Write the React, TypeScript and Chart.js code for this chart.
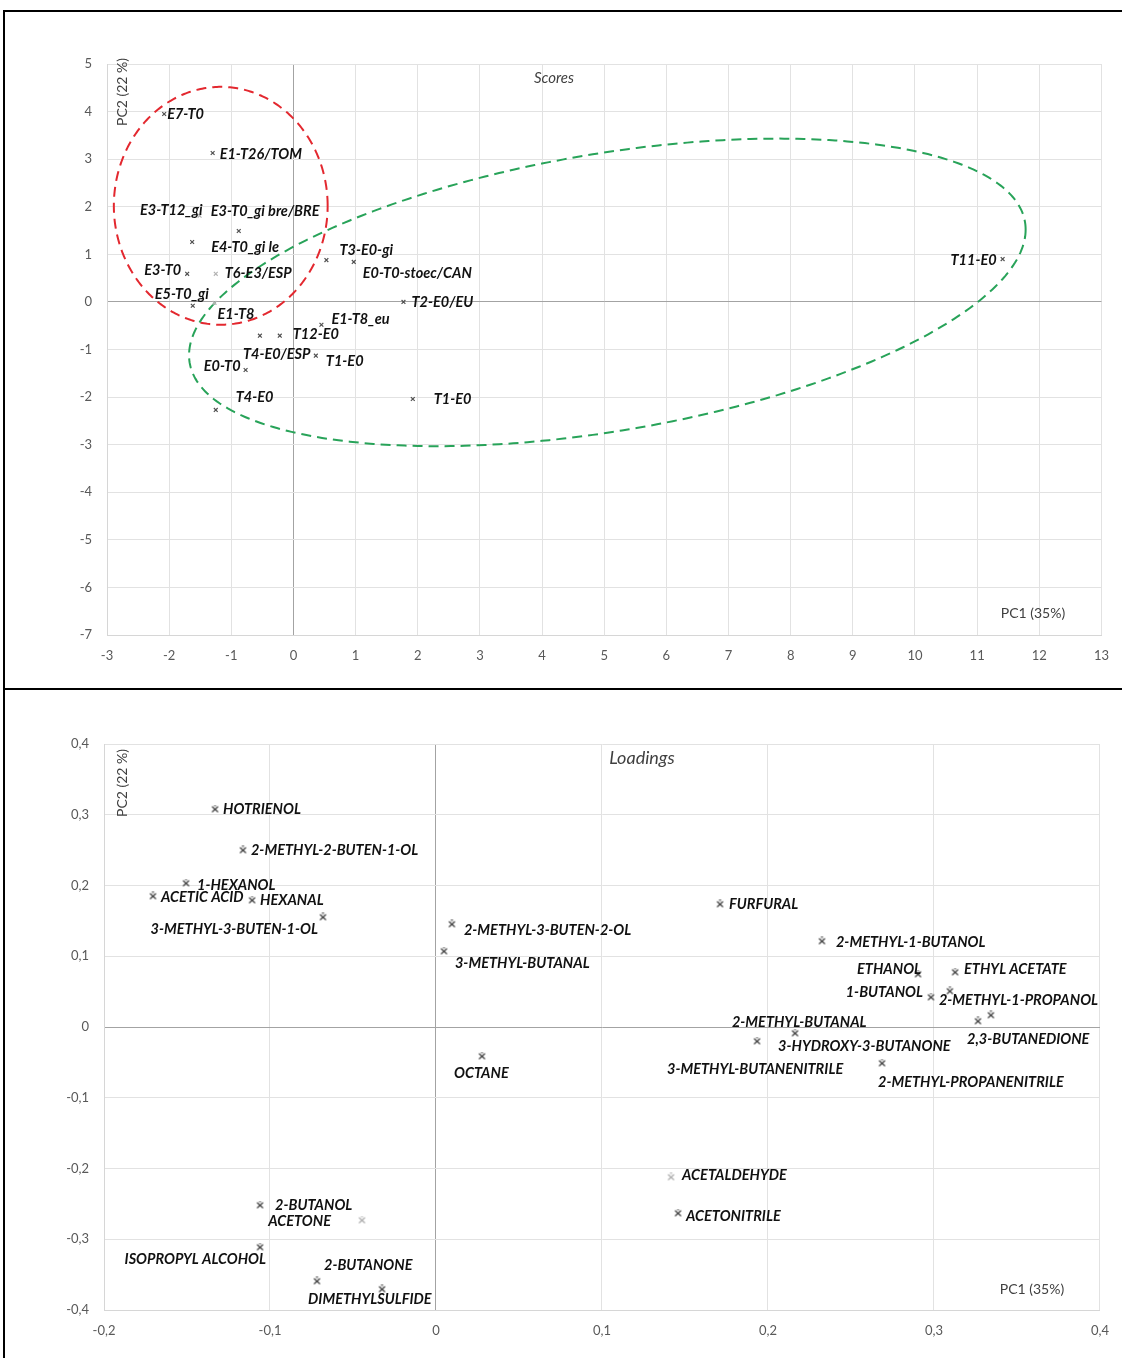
import React, { useEffect, useRef } from 'react';
import { Chart, registerables } from 'chart.js';

Chart.register(...registerables);

// ---------- Scores (top chart) ----------
const scoreLabels = [
  'E7-T0', 'E1-T26/TOM', 'E3-T12_gi', 'E3-T0_gi bre/BRE', 'E4-T0_gi le',
  'T3-E0-gi', 'E0-T0-stoec/CAN', 'E3-T0', 'T6-E3/ESP', 'E5-T0_gi',
  'E1-T8', 'T2-E0/EU', 'E1-T8_eu', 'T12-E0', 'T4-E0/ESP',
  'T1-E0', 'E0-T0', 'T4-E0', 'T1-E0', 'T11-E0',
];
const scorePC1 = [
  -2.08, -1.3, -1.51, -0.88, -1.63,
  0.53, 0.97, -1.71, -1.25, -1.62,
  -1.27, 1.77, 0.45, -0.22, -0.54,
  0.36, -0.77, -1.25, 1.92, 11.41,
];
const scorePC2 = [
  3.95, 3.13, 1.81, 1.49, 1.26,
  0.88, 0.84, 0.59, 0.59, -0.08,
  -0.02, 0.0, -0.48, -0.71, -0.71,
  -1.13, -1.43, -2.27, -2.04, 0.9,
];
const scoreFaint = [2, 8, 10];
const scoreXRange = [-3, 13];
const scoreYRange = [-7, 5];

// label placement (pixel offset from marker, alignment)
const scoreLabelPos: [number, number, CanvasTextAlign][] = [
  [3, 0, 'left'], [7, 1, 'left'], [3, -5, 'right'], [-28, -20, 'left'], [19, 5, 'left'],
  [13, -10, 'left'], [9, 11, 'left'], [-6, -4, 'right'], [9, -1, 'left'], [-38, -11, 'left'],
  [3, 11, 'left'], [8, 0, 'left'], [10, -5, 'left'], [13, -1, 'left'], [-17, 19, 'left'],
  [10, 6, 'left'], [-5, -4, 'right'], [20, -13, 'left'], [21, 0, 'left'], [-6, 1, 'right'],
];

// group ellipses, in data units: centre + two axis vectors
const redEllipse = { center: [-1.17, 2.02], u: [1.72, 0], v: [0, 2.5] };
const greenEllipse = { center: [5.05, 0.2], u: [6.73, 1.32], v: [0, 2.95] };

// ---------- Loadings (bottom chart) ----------
const loadingLabels = [
  'HOTRIENOL', '2-METHYL-2-BUTEN-1-OL', '1-HEXANOL', 'ACETIC ACID', 'HEXANAL',
  '3-METHYL-3-BUTEN-1-OL', '2-METHYL-3-BUTEN-2-OL', '3-METHYL-BUTANAL', 'OCTANE', 'FURFURAL',
  '2-METHYL-1-BUTANOL', 'ETHANOL', 'ETHYL ACETATE', '1-BUTANOL', '2-METHYL-1-PROPANOL',
  '3-METHYL-BUTANENITRILE', '3-HYDROXY-3-BUTANONE', '2-METHYL-PROPANENITRILE', '2,3-BUTANEDIONE', '2-METHYL-BUTANAL',
  '2-BUTANOL', 'ACETONE', 'ISOPROPYL ALCOHOL', '2-BUTANONE', 'DIMETHYLSULFIDE',
  'ACETALDEHYDE', 'ACETONITRILE',
];
const loadingPC1 = [
  -0.1331, -0.1163, -0.1506, -0.1705, -0.1108,
  -0.0681, 0.0096, 0.0048, 0.0277, 0.1711,
  0.2325, 0.2904, 0.3127, 0.2982, 0.3096,
  0.1934, 0.2163, 0.2687, 0.3265, 0.3343,
  -0.106, -0.0446, -0.106, -0.0717, -0.0325,
  0.1416, 0.1458,
];
const loadingPC2 = [
  0.3081, 0.2502, 0.2035, 0.1852, 0.1795,
  0.1555, 0.1456, 0.1074, -0.041, 0.1739,
  0.1216, 0.0749, 0.0777, 0.0424, 0.0509,
  -0.0198, -0.0085, -0.0509, 0.0085, 0.017,
  -0.2516, -0.2728, -0.311, -0.359, -0.3703,
  -0.212, -0.2629,
];
const loadingFaint = [21, 25];
const loadingXRange = [-0.2, 0.4];
const loadingYRange = [-0.4, 0.4];

const loadingLabelPos: [number, number, CanvasTextAlign][] = [
  [8, 0, 'left'], [8, 0, 'left'], [11, 2, 'left'], [8, 1, 'left'], [8, 0, 'left'],
  [-5, 12, 'right'], [12, 6, 'left'], [11, 12, 'left'], [-28, 17, 'left'], [9, 0, 'left'],
  [14, 1, 'left'], [3, -5, 'right'], [9, -3, 'left'], [-8, -5, 'right'], [-11, 9, 'left'],
  [-90, 28, 'left'], [-17, 13, 'left'], [-4, 19, 'left'], [-11, 18, 'left'], [-259, 7, 'left'],
  [15, 0, 'left'], [-31, 1, 'right'], [6, 12, 'right'], [7, -16, 'left'], [-74, 10, 'left'],
  [11, -2, 'left'], [8, 3, 'left'],
];

const LABEL_FONT = 'italic bold 14.5px Lato';
const AXIS_FONT = '14px Lato';

function commaFmt(v: number): string {
  if (Math.abs(v) < 1e-9) return '0';
  return String(Math.round(v * 10) / 10).replace('.', ',');
}

function starMarker(color: string): HTMLCanvasElement {
  const c = document.createElement('canvas');
  c.width = 9; c.height = 9;
  const g = c.getContext('2d')!;
  g.strokeStyle = color;
  g.lineWidth = 1.1;
  g.beginPath();
  g.moveTo(1.5, 2); g.lineTo(7.5, 7.5);
  g.moveTo(7.5, 2); g.lineTo(1.5, 7.5);
  g.moveTo(3.5, 1); g.lineTo(5.5, 1);
  g.stroke();
  return c;
}

type Cfg = {
  labels: string[];
  labelPos: [number, number, CanvasTextAlign][];
  ellipses: { center: number[]; u: number[]; v: number[]; color: string }[];
  title: { text: string; x: number; y: number; font: string };
  yTitle: { x: number; y: number };
  xTitle: { x: number; y: number };
};

function makePlugin(cfg: Cfg) {
  return {
    id: 'annot',
    beforeDatasetsDraw(chart: any) {
      const ctx = chart.ctx as CanvasRenderingContext2D;
      const xs = chart.scales.x, ys = chart.scales.y;
      for (const e of cfg.ellipses) {
        ctx.save();
        ctx.strokeStyle = e.color;
        ctx.lineWidth = 2;
        ctx.setLineDash([10, 6]);
        ctx.beginPath();
        const N = 360;
        for (let i = 0; i <= N; i++) {
          const t = (i / N) * Math.PI * 2;
          const dx = e.center[0] + e.u[0] * Math.cos(t) + e.v[0] * Math.sin(t);
          const dy = e.center[1] + e.u[1] * Math.cos(t) + e.v[1] * Math.sin(t);
          const px = xs.getPixelForValue(dx);
          const py = ys.getPixelForValue(dy);
          if (i === 0) ctx.moveTo(px, py); else ctx.lineTo(px, py);
        }
        ctx.stroke();
        ctx.restore();
      }
    },
    afterDatasetsDraw(chart: any) {
      const ctx = chart.ctx as CanvasRenderingContext2D;
      const meta = chart.getDatasetMeta(0);
      ctx.save();
      ctx.font = LABEL_FONT;
      ctx.fillStyle = '#111111';
      ctx.textBaseline = 'middle';
      meta.data.forEach((pt: any, i: number) => {
        const [dx, dy, al] = cfg.labelPos[i];
        ctx.textAlign = al;
        ctx.fillText(cfg.labels[i], pt.x + dx, pt.y + dy);
      });
      // chart title inside plot
      ctx.font = cfg.title.font;
      ctx.fillStyle = '#404040';
      ctx.textAlign = 'center';
      ctx.fillText(cfg.title.text, cfg.title.x, cfg.title.y);
      // axis titles
      ctx.font = AXIS_FONT;
      ctx.fillText('PC1 (35%)', cfg.xTitle.x, cfg.xTitle.y);
      ctx.translate(cfg.yTitle.x, cfg.yTitle.y);
      ctx.rotate(-Math.PI / 2);
      ctx.fillText('PC2 (22 %)', 0, 0);
      ctx.restore();
    },
  };
}

function makeChart(
  canvas: HTMLCanvasElement,
  pc1: number[], pc2: number[], faint: number[],
  xr: number[], yr: number[], step: number,
  dims: { left: number; top: number; right: number; bottom: number },
  tickFmt: (v: number) => string,
  pointStyle: any, faintStyle: any, radius: number,
  cfg: Cfg,
) {
  const gridColor = (c: any) => (Math.abs(c.tick.value) < 1e-9 ? '#a3a3a3' : '#e2e2e2');
  return new Chart(canvas, {
    type: 'scatter',
    data: {
      datasets: [{
        data: pc1.map((x, i) => ({ x, y: pc2[i] })),
        pointStyle: (c: any) => (faint.includes(c.dataIndex) ? faintStyle : pointStyle),
        pointRadius: radius,
        borderWidth: 1.2,
        pointBorderColor: (c: any) => (faint.includes(c.dataIndex) ? '#b3b3b3' : '#505050'),
        backgroundColor: 'transparent',
        showLine: false,
      }],
    },
    options: {
      animation: false,
      responsive: false,
      devicePixelRatio: 1,
      layout: { padding: { left: 0, top: dims.top, right: dims.right, bottom: 0 } },
      plugins: { legend: { display: false }, tooltip: { enabled: false } },
      scales: {
        x: {
          type: 'linear', min: xr[0], max: xr[1],
          afterFit: (s: any) => { s.height = dims.bottom; },
          ticks: { stepSize: step, padding: 13, color: '#595959', font: { family: 'Lato', size: 13 }, callback: (v: any) => tickFmt(Number(v)), maxRotation: 0 },
          grid: { color: gridColor, drawTicks: false, lineWidth: 1 },
          border: { display: true, color: '#d6d6d6' },
        },
        y: {
          type: 'linear', min: yr[0], max: yr[1],
          afterFit: (s: any) => { s.width = dims.left; },
          ticks: { stepSize: step, padding: 15, color: '#595959', font: { family: 'Lato', size: 13 }, callback: (v: any) => tickFmt(Number(v)) },
          grid: { color: gridColor, drawTicks: false, lineWidth: 1 },
          border: { display: true, color: '#d6d6d6' },
        },
      },
    },
    plugins: [makePlugin(cfg)],
  } as any);
}

export default function App() {
  const topRef = useRef<HTMLCanvasElement>(null);
  const botRef = useRef<HTMLCanvasElement>(null);

  useEffect(() => {
    const crossStyle = 'crossRot';
    const top = makeChart(
      topRef.current!, scorePC1, scorePC2, scoreFaint, scoreXRange, scoreYRange, 1,
      { left: 107, top: 64, right: 19, bottom: 54 },
      (v) => String(Math.round(v)),
      crossStyle, crossStyle, 2.7,
      {
        labels: scoreLabels, labelPos: scoreLabelPos,
        ellipses: [
          { ...redEllipse, color: '#e3282f' },
          { ...greenEllipse, color: '#28a359' },
        ],
        title: { text: 'Scores', x: 554, y: 78, font: 'italic 15px Lato' },
        yTitle: { x: 122, y: 92 },
        xTitle: { x: 1033, y: 613 },
      },
    );
    const bot = makeChart(
      botRef.current!, loadingPC1, loadingPC2, loadingFaint, loadingXRange, loadingYRange, 0.1,
      { left: 104, top: 54, right: 22, bottom: 48 },
      commaFmt,
      starMarker('#333333'), starMarker('#a8a8a8'), 4.5,
      {
        labels: loadingLabels, labelPos: loadingLabelPos,
        ellipses: [],
        title: { text: 'Loadings', x: 642, y: 68, font: 'italic 18px Lato' },
        yTitle: { x: 122, y: 93 },
        xTitle: { x: 1032, y: 599 },
      },
    );
    return () => { top.destroy(); bot.destroy(); };
  }, []);

  return (
    <div style={{ position: 'fixed', left: 0, top: 0, width: 1122, height: 1358, background: '#fff', overflow: 'hidden' }}>
      <canvas ref={topRef} width={1122} height={689} style={{ position: 'absolute', left: 0, top: 0 }} />
      <canvas ref={botRef} width={1122} height={668} style={{ position: 'absolute', left: 0, top: 690 }} />
      <div style={{ position: 'absolute', left: 3, top: 10, width: 1125, height: 1360, borderTop: '2px solid #000', borderLeft: '2px solid #000', boxSizing: 'border-box' }} />
      <div style={{ position: 'absolute', left: 3, top: 688, width: 1125, height: 2, background: '#000' }} />
    </div>
  );
}
